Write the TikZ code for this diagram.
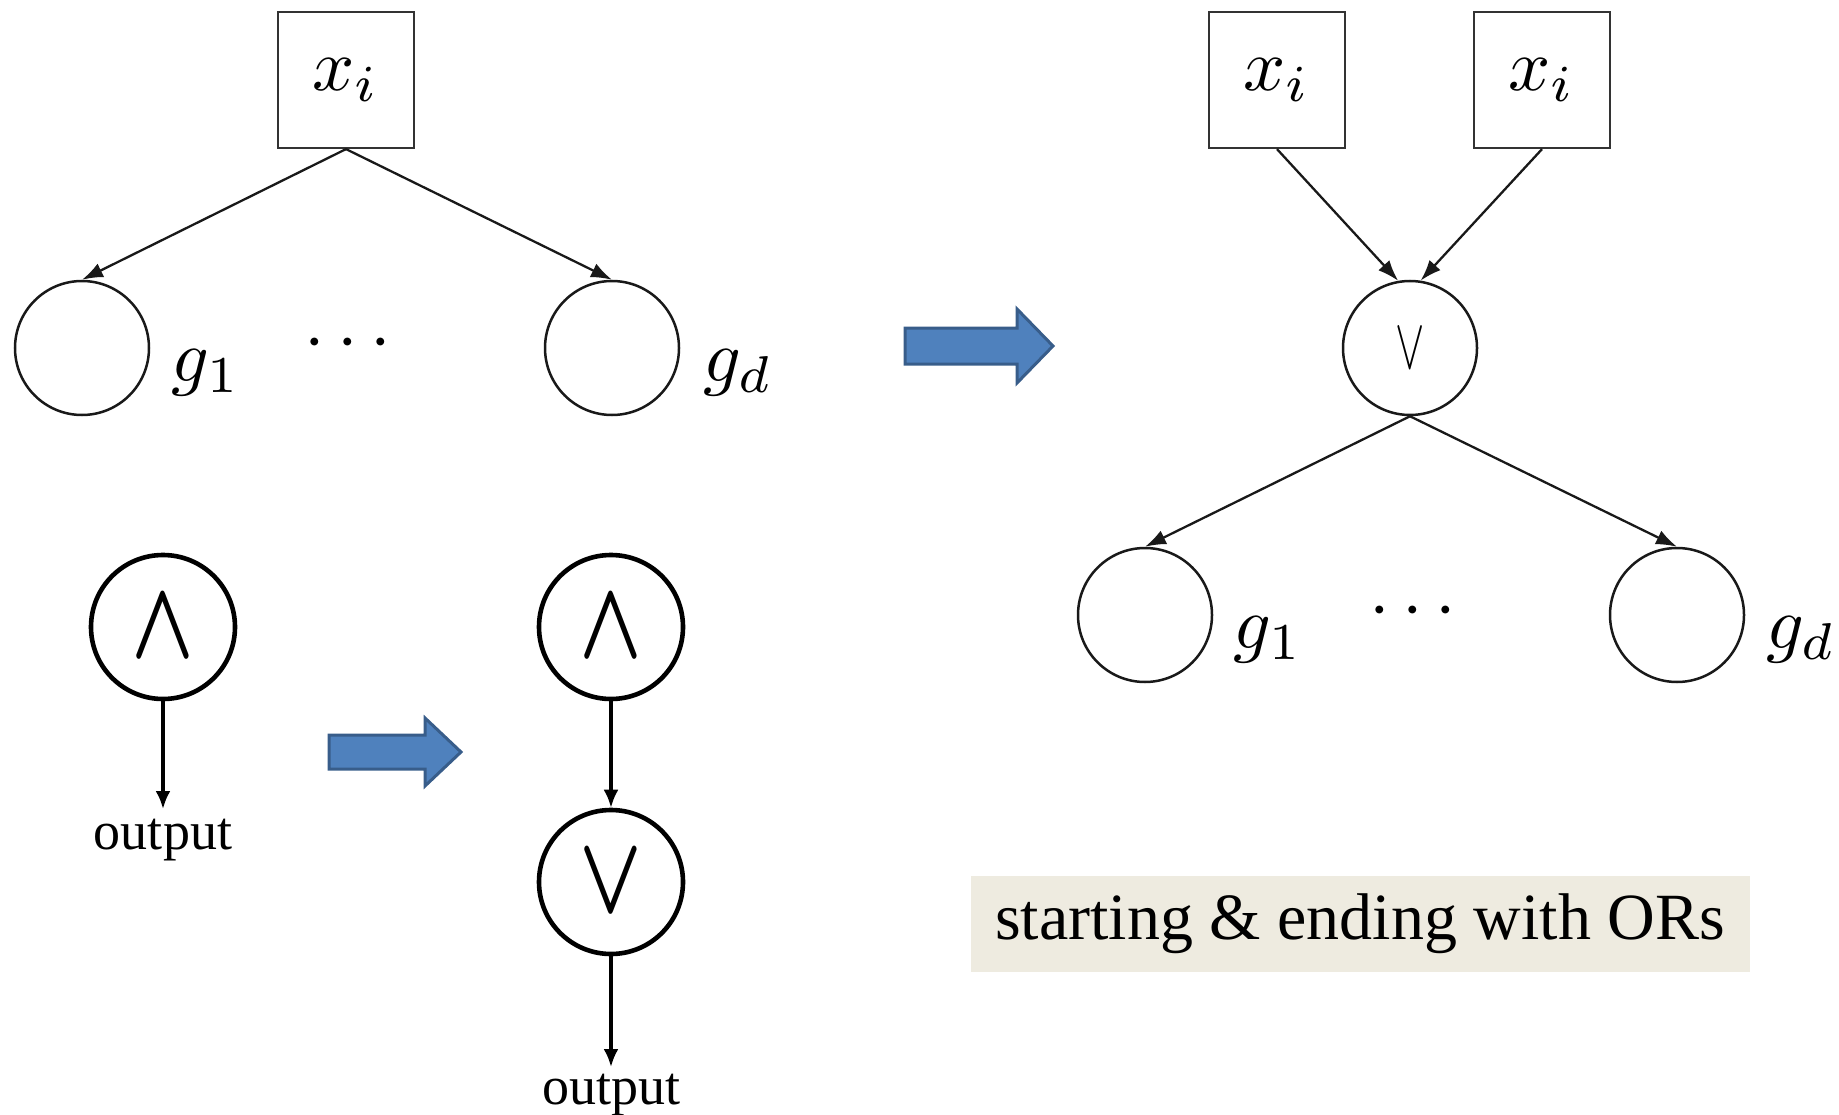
\documentclass[tikz,border=0pt]{standalone}
\usepackage[no-math]{fontspec}
\newfontfamily\labfont{Liberation Serif}
\usetikzlibrary{arrows.meta}

\definecolor{arrfill}{RGB}{79,129,189}
\definecolor{arredge}{RGB}{56,93,138}
\definecolor{notefill}{RGB}{238,235,224}

% large math, scaled from the normal 10pt size
\newcommand{\bigmath}[1]{\scalebox{7.4}{$#1$}}
% gate symbols inside the bold circles
\newcommand{\gatesym}[1]{\scalebox{8.2}[11]{\boldmath$#1$}}

\tikzset{
  mathlab/.style={inner sep=0pt},
  varbox/.style={draw=black!80, line width=2.2pt, minimum width=136pt, minimum height=136pt, inner sep=0pt},
  gate/.style={draw=black!90, circle, line width=2.5pt, minimum size=134pt, inner sep=0pt},
  boldgate/.style={draw, circle, line width=4.6pt, minimum size=144pt, inner sep=0pt},
  thinarr/.style={-{Latex[length=21pt,width=15pt]}, line width=2.3pt, draw=black!90},
  boldarr/.style={-{Latex[length=18pt,width=15pt]}, line width=3.2pt},
  outlab/.style={font=\labfont\fontsize{54}{60}\selectfont, inner sep=0pt, anchor=base},
  blockarrow/.style={fill=arrfill, draw=arredge, line width=3pt, line join=miter},
}

\begin{document}
\begin{tikzpicture}[x=1pt, y=-1pt]
  \useasboundingbox (0,0) rectangle (1839,1115);

  % single input fanning out to the gates g_1 ... g_d
  \node[varbox] (xa) at (346,80) {\bigmath{x_i}};
  \node[gate] (g1a) at (82,348) {};
  \node[gate] (gda) at (612,348) {};
  \node[mathlab] (lg1a) at (206,373) {\bigmath{g_1}};
  \node[mathlab] (lgda) at (738,373) {\bigmath{g_d}};
  \node[mathlab] (dotsa) at (348,344) {\bigmath{\cdots}};
  \draw[thinarr] (xa.south) -- (g1a.north);
  \draw[thinarr] (xa.south) -- (gda.north);

  % transformation arrow (top)
  \path[blockarrow] (905,328) -- (1017,328) -- (1017,309) -- (1053,346)
        -- (1017,383) -- (1017,364) -- (905,364) -- cycle;

  % two copies of the input joined by an OR gate
  \node[varbox] (xb1) at (1277,80) {\bigmath{x_i}};
  \node[varbox] (xb2) at (1542,80) {\bigmath{x_i}};
  \node[gate] (orb) at (1410,348) {\scalebox{4.4}[7.2]{$\vee$}};
  \node[gate] (g1b) at (1145,615) {};
  \node[gate] (gdb) at (1677,615) {};
  \node[mathlab] (lg1b) at (1268,640) {\bigmath{g_1}};
  \node[mathlab] (lgdb) at (1801,640) {\bigmath{g_d}};
  \node[mathlab] (dotsb) at (1413,612) {\bigmath{\cdots}};
  \draw[thinarr] (xb1.south) -- (orb.100);
  \draw[thinarr] (xb2.south) -- (orb.81);
  \draw[thinarr] (orb.south) -- (g1b.north);
  \draw[thinarr] (orb.south) -- (gdb.north);

  % AND gate feeding the output directly
  \node[boldgate] (anda) at (163,627) {\gatesym{\wedge}};
  \coordinate (outa) at (163,809);
  \draw[boldarr] (anda.south) -- (outa);
  \node[outlab] (louta) at (163,849) {output};

  % transformation arrow (bottom)
  \path[blockarrow] (329,735) -- (425,735) -- (425,718) -- (461,752)
        -- (425,786) -- (425,769) -- (329,769) -- cycle;

  % AND gate followed by an OR gate before the output
  \node[boldgate] (andb) at (611,627) {\gatesym{\wedge}};
  \node[boldgate] (orc) at (611,882) {\gatesym{\vee}};
  \coordinate (outb) at (611,1067);
  \draw[boldarr] (andb.south) -- (orc.north);
  \draw[boldarr] (orc.south) -- (outb);
  \node[outlab] (loutb) at (611,1104) {output};

  % note
  \node[fill=notefill, minimum width=779pt, minimum height=96pt, inner sep=0pt,
        font=\labfont\fontsize{66}{72}\selectfont] (note) at (1360,924)
        {starting \& ending with ORs};
\end{tikzpicture}
\end{document}
